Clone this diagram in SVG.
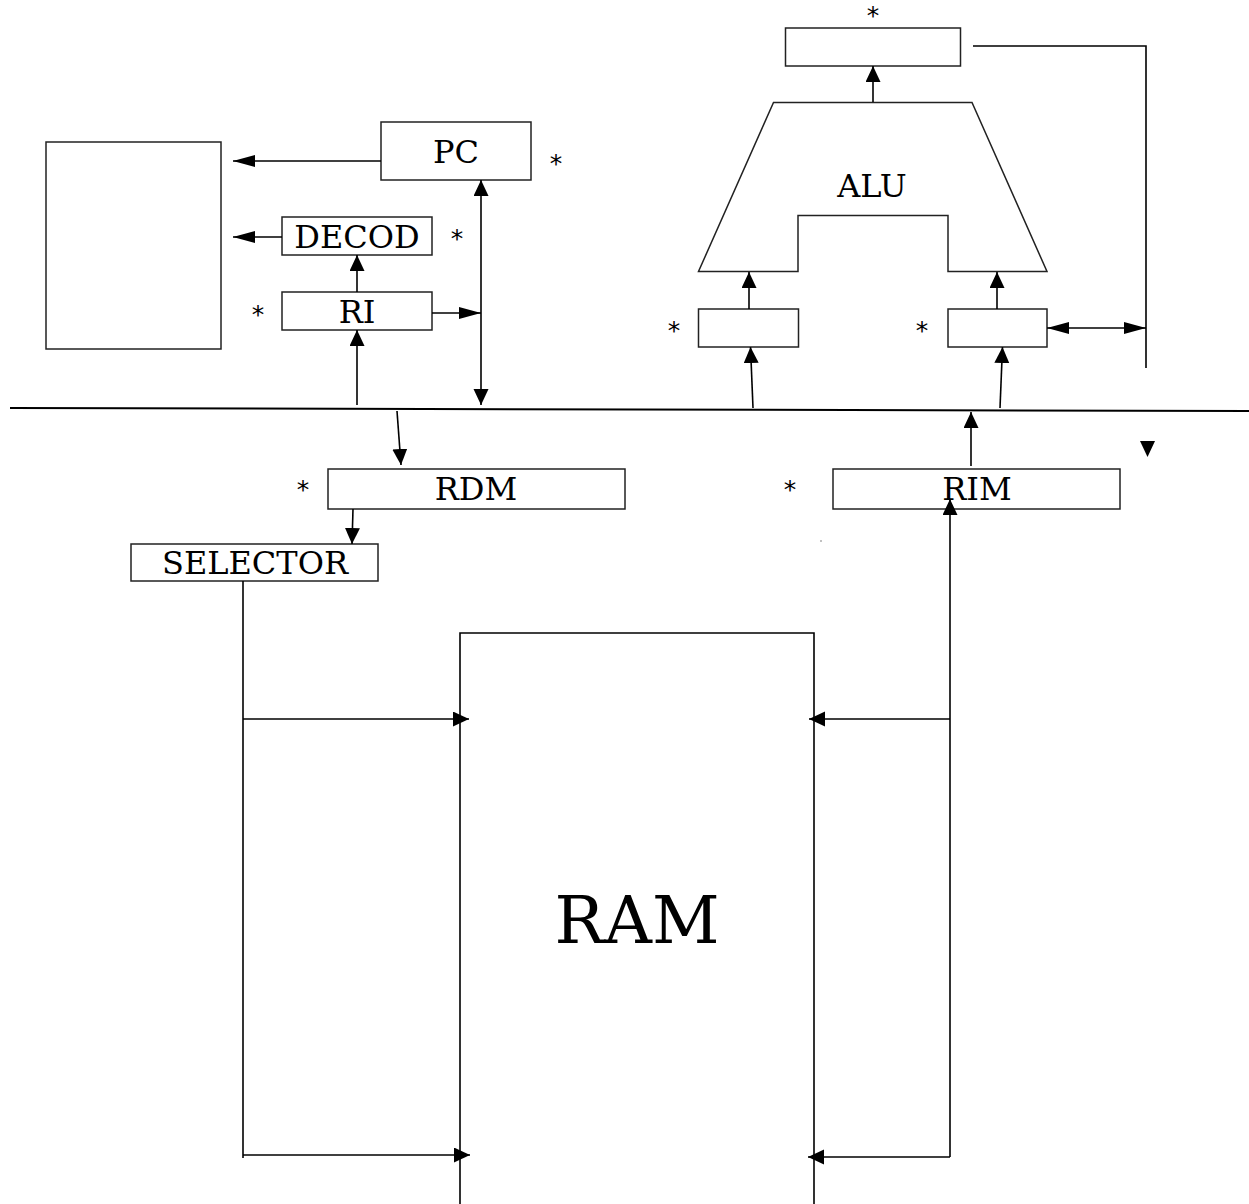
<svg xmlns="http://www.w3.org/2000/svg" width="1249" height="1204" viewBox="0 0 1249 1204">
<style>
.box{fill:#fff;stroke:#222;stroke-width:1.5}
.ln{fill:none;stroke:#000;stroke-width:1.6}
.arr{fill:none;stroke:#000;stroke-width:1.6;marker-end:url(#ah)}
.arw{fill:none;stroke:#000;stroke-width:1.6;marker-end:url(#ahw)}
.dbl{fill:none;stroke:#000;stroke-width:1.6;marker-end:url(#ah);marker-start:url(#ah)}
.dblw{fill:none;stroke:#000;stroke-width:1.6;marker-end:url(#ahw);marker-start:url(#ahw)}
.lbl{font-family:"DejaVu Serif",serif;font-size:32px;text-anchor:middle;fill:#000}
.star{font-family:"DejaVu Sans",sans-serif;font-size:25px;text-anchor:middle;fill:#000}
</style>
<defs>
<marker id="ah" markerUnits="userSpaceOnUse" markerWidth="17" markerHeight="16" refX="16" refY="7.5" orient="auto-start-reverse" viewBox="0 0 17 16">
<path d="M0,0 L16,7.5 L0,15 z" fill="#000"/>
</marker>
<marker id="ahw" markerUnits="userSpaceOnUse" markerWidth="23" markerHeight="13" refX="22" refY="6" orient="auto-start-reverse" viewBox="0 0 23 13">
<path d="M0,0 L22,6 L0,12 z" fill="#000"/>
</marker>
</defs>
<rect width="1249" height="1204" fill="#fff"/>
<g id="bus"><line x1="10" y1="408" x2="1249" y2="411" stroke="#000" stroke-width="2"/></g>
<g id="control"><rect class="box" x="46" y="142" width="175" height="207"/></g>
<g id="pc"><rect class="box" x="381" y="122" width="150" height="58"/><text class="lbl" x="456" y="163">PC</text><text class="star" x="556" y="172">*</text></g>
<g id="decod"><rect class="box" x="282" y="217" width="150" height="38"/><text class="lbl" x="357" y="248">DECOD</text><text class="star" x="457" y="247">*</text></g>
<g id="ri"><rect class="box" x="282" y="292" width="150" height="38"/><text class="lbl" x="357" y="323">RI</text><text class="star" x="258" y="323">*</text></g>
<g id="acc"><rect class="box" x="785.5" y="28" width="175" height="38"/><text class="star" x="873" y="24">*</text></g>
<g id="alu"><path class="box" d="M773.5,102.5 H972 L1047,271.5 H948 V215.5 H798 V271.5 H698.5 Z"/><text class="lbl" x="872" y="197">ALU</text></g>
<g id="opa"><rect class="box" x="698.5" y="309" width="100" height="38"/><text class="star" x="674" y="339">*</text></g>
<g id="opb"><rect class="box" x="948" y="309" width="99" height="38"/><text class="star" x="922" y="339">*</text></g>
<g id="rdm"><rect class="box" x="328" y="469" width="297" height="40"/><text class="lbl" x="476" y="500">RDM</text><text class="star" x="303" y="498">*</text></g>
<g id="rim"><rect class="box" x="833" y="469" width="287" height="40"/><text class="lbl" x="977" y="500">RIM</text><text class="star" x="790" y="498">*</text></g>
<g id="selector"><rect class="box" x="131" y="544" width="247" height="37"/><text class="lbl" x="255" y="574">SELECTOR</text></g>
<g id="ram"><path class="ln" d="M460,1204 V633 H814 V1204"/><text x="637" y="943" font-family="DejaVu Serif, serif" font-size="66" text-anchor="middle">RAM</text></g>
<g id="marks"><path d="M1140,441 L1155,441 L1147.5,457 Z" fill="#000"/><circle cx="821" cy="541" r="0.7" fill="#555"/></g>
<g id="connectors">
<line class="arw" x1="381" y1="161" x2="233" y2="161"/>
<line class="arw" x1="282" y1="237" x2="233" y2="237"/>
<line class="arr" x1="357" y1="292" x2="357" y2="255"/>
<line class="arr" x1="357" y1="405" x2="357" y2="330"/>
<line class="arw" x1="432" y1="313" x2="481" y2="313"/>
<line class="dbl" x1="481" y1="180" x2="481" y2="405"/>
<line class="arr" x1="397" y1="411" x2="401" y2="465"/>
<line class="arr" x1="353" y1="509" x2="352" y2="544"/>
<line class="ln" x1="243" y1="581" x2="243" y2="1158"/>
<line class="arr" x1="243" y1="719" x2="469" y2="719"/>
<line class="arr" x1="243" y1="1155" x2="470" y2="1155"/>
<line class="arr" x1="950" y1="1157" x2="950" y2="499"/>
<line class="arr" x1="950" y1="719" x2="809" y2="719"/>
<line class="arr" x1="950" y1="1157" x2="808" y2="1157"/>
<line class="arr" x1="971" y1="466" x2="971" y2="412"/>
<line class="arr" x1="753" y1="408" x2="750.5" y2="347"/>
<line class="arr" x1="1000" y1="408" x2="1002.5" y2="347"/>
<line class="arr" x1="749" y1="309" x2="749" y2="272"/>
<line class="arr" x1="997" y1="309" x2="997" y2="272"/>
<line class="arr" x1="873" y1="102" x2="873" y2="66"/>
<polyline class="ln" points="973,46 1146,46 1146,368"/>
<line class="dblw" x1="1047" y1="328" x2="1146" y2="328"/>
</g>
</svg>
